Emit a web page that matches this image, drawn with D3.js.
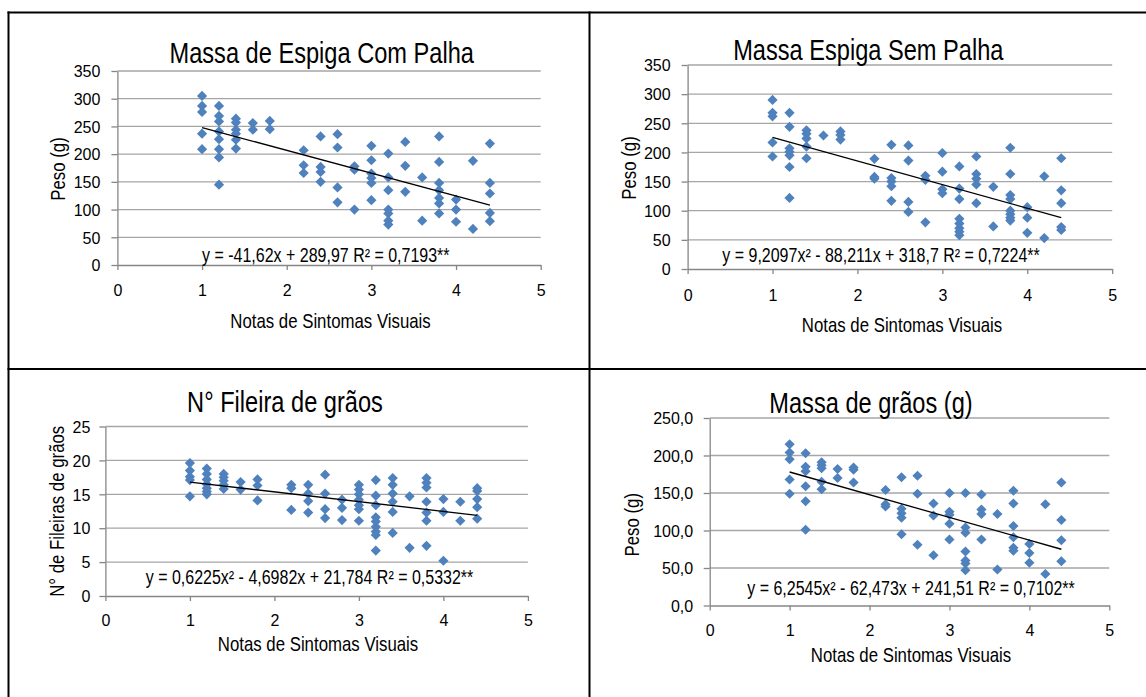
<!DOCTYPE html>
<html>
<head>
<meta charset="utf-8">
<script src="https://cdn.jsdelivr.net/npm/d3@7"></script>
<style>
  body { margin: 0; background: #fff; }
  svg { display: block; }
  .narrow { font-family: "Liberation Sans", Arial, sans-serif; fill: #000; }
  .tick text { font-family: "Liberation Sans", Arial, sans-serif; font-size: 16px; fill: #000; }
</style>
</head>
<body>
<div id="quadro"></div>
<script>
// Notas de sintomas (eixo x), iguais nos quatro graficos
const notas = [1, 1.2, 1.4, 1.6, 1.8, 2.2, 2.4, 2.6, 2.8, 3, 3.2, 3.4, 3.6, 3.8, 4, 4.2, 4.4]
const xTicks = [0, 1, 2, 3, 4, 5]

// Valores lidos em cada nota
const comPalha = [
  [305, 287, 276, 237, 209],
  [287, 269, 259, 241, 227, 209, 194, 145],
  [264, 257, 244, 237, 226, 210],
  [256, 244],
  [260, 245],
  [207, 180, 166],
  [232, 177, 168, 150],
  [236, 212, 140, 113],
  [178, 172, 100],
  [215, 189, 165, 157, 148, 117],
  [201, 158, 135, 100, 93, 80, 73],
  [222, 179, 132],
  [158, 80],
  [232, 186, 148, 135, 121, 111, 93],
  [118, 100, 78],
  [188, 65],
  [219, 148, 129, 94, 79]
]

const semPalha = [
  [290, 268, 262, 217, 193],
  [268, 244, 207, 201, 195, 175, 122],
  [238, 232, 224, 210, 190],
  [229],
  [236, 230, 222],
  [189, 158, 155],
  [213, 156, 150, 142, 117],
  [212, 186, 115, 98],
  [160, 153, 80],
  [199, 167, 137, 130],
  [176, 138, 120, 86, 78, 70, 64, 58],
  [193, 163, 155, 145, 113],
  [141, 73],
  [208, 163, 127, 120, 100, 94, 88, 83],
  [106, 88, 62],
  [159, 53],
  [190, 135, 113, 72, 67]
]

const fileiras = [
  [19.6, 18.5, 17.6, 17.1, 14.7],
  [18.8, 18.0, 17.2, 16.5, 15.9, 15.4, 15.0],
  [18.0, 17.5, 17.0, 16.4, 15.8],
  [16.8, 15.7],
  [17.2, 16.3, 14.1],
  [16.4, 15.9, 12.7],
  [16.4, 15.1, 14.0, 12.3],
  [17.9, 15.1, 12.8, 11.5],
  [14.2, 13.0, 11.2],
  [16.4, 15.7, 15.0, 14.2, 13.4, 12.8, 11.1],
  [17.1, 14.8, 13.4, 11.6, 11.0, 10.2, 9.5, 9.0, 6.7],
  [17.4, 16.4, 15.1, 13.9, 12.4, 9.3],
  [14.7, 7.1],
  [17.4, 16.7, 16.0, 13.9, 12.3, 11.1, 7.4],
  [14.3, 12.4, 5.2],
  [13.9, 11.1],
  [15.9, 15.5, 14.3, 13.1, 11.4]
]

const graos = [
  [215, 204, 195, 168, 149],
  [203, 185, 179, 159, 139, 101],
  [191, 187, 183, 165, 155],
  [182, 170],
  [184, 181, 164],
  [154, 135, 132],
  [171, 129, 123, 117, 95],
  [173, 149, 81],
  [136, 120, 67],
  [150, 125, 121, 109, 88],
  [150, 104, 97, 72, 60, 56, 47],
  [148, 128, 122, 88],
  [122, 48],
  [153, 136, 106, 91, 77, 73],
  [82, 70, 57],
  [135, 42],
  [164, 114, 87, 59]
]

// Linhas de tendencia (valores em x = 1 e x = 4,4)
const tendX = [1, 4.4]
const tendComPalha = [248, 108]
const tendSemPalha = [226, 88]
const tendFileiras = [16.8, 11.9]
const tendGraos = [178, 75]

const titulos = ["Massa de Espiga Com Palha", "Massa Espiga Sem Palha", "N° Fileira de grãos", "Massa de grãos (g)"]
const equacoes = [
  "y = -41,62x + 289,97 R² = 0,7193**",
  "y = 9,2097x² - 88,211x + 318,7 R² = 0,7224**",
  "y = 0,6225x² - 4,6982x + 21,784 R² = 0,5332**",
  "y = 6,2545x² - 62,473x + 241,51 R² = 0,7102**"
]
const rotulosY = ["Peso (g)", "Peso (g)", "N° de Fileiras de grãos", "Peso (g)"]
const rotuloX = "Notas de Sintomas Visuais"

const W = 1146, H = 697
const svg = d3.select("#quadro").append("svg").attr("width", W).attr("height", H)

// Quadro (bordas da tabela)
const borda = svg.append("g").attr("stroke", "#000").attr("stroke-width", 2)
borda.append("line").attr("x1", 7.5).attr("x2", W).attr("y1", 12.5).attr("y2", 12.5)
borda.append("line").attr("x1", 7.5).attr("x2", W).attr("y1", 369).attr("y2", 369)
borda.append("line").attr("x1", 8.5).attr("x2", 8.5).attr("y1", 11.5).attr("y2", H)
borda.append("line").attr("x1", 589.5).attr("x2", 589.5).attr("y1", 11.5).attr("y2", H)

// texto estreito: fonte comum comprimida na horizontal
const estreito = (g, x, y, size, txt, rot = 0) =>
  g.append("text").classed("narrow", true)
    .attr("transform", `translate(${x},${y}) rotate(${rot}) scale(0.82,1)`)
    .attr("dy", rot ? "0.36em" : null)
    .attr("text-anchor", "middle").attr("font-size", size)
    .text(txt)

const draw = (cfg) => {
  const x = d3.scaleLinear().domain([0, 5]).range([cfg.x0, cfg.x1])
  const y = d3.scaleLinear().domain([0, cfg.yMax]).range([cfg.y0, cfg.y1])
  const g = svg.append("g")
  const yTicks = d3.range(0, cfg.yMax + cfg.yStep / 2, cfg.yStep)

  // grade
  g.append("g")
    .selectAll("line")
    .data(yTicks.slice(1))
    .join("line")
    .attr("x1", cfg.x0)
    .attr("x2", cfg.x1)
    .attr("y1", (d) => y(d))
    .attr("y2", (d) => y(d))
    .attr("stroke", "#a6a6a6")
    .attr("stroke-width", 1.3)

  const eixoY = g
    .append("g")
    .attr("transform", `translate(${cfg.x0},0)`)
    .call(d3.axisLeft(y).tickValues(yTicks).tickFormat(cfg.fmt).tickSize(6).tickSizeOuter(0).tickPadding(cfg.padY))
  const eixoX = g
    .append("g")
    .attr("transform", `translate(0,${cfg.y0})`)
    .call(d3.axisBottom(x).tickValues(xTicks).tickFormat(d3.format("d")).tickSize(5).tickSizeOuter(0).tickPadding(cfg.padX))
  ;[eixoY, eixoX].forEach((e) => {
    e.selectAll("path, line").attr("stroke", "#868686").attr("stroke-width", 1.3)
    e.attr("font-size", null).attr("font-family", null)
  })
  eixoY.selectAll("text").attr("dy", "0.36em")

  // pontos
  const pontos = notas.flatMap((n, i) => cfg.valores[i].map((v) => ({ x: n, y: v })))
  const losango = d3.symbol(d3.symbolSquare, 52)
  g.append("g")
    .selectAll("path")
    .data(pontos)
    .join("path")
    .attr("d", losango)
    .attr("transform", (d) => `translate(${x(d.x)},${y(d.y)}) rotate(45)`)
    .attr("fill", "#4f81bd")

  // tendencia
  g.append("path")
    .datum(tendX.map((t, i) => [t, cfg.tend[i]]))
    .attr("d", d3.line().x((d) => x(d[0])).y((d) => y(d[1])))
    .attr("stroke", "#000")
    .attr("stroke-width", 1.3)
    .attr("fill", "none")

  // textos
  estreito(g, cfg.tx, cfg.ty, 28.8, cfg.titulo)
  estreito(g, cfg.ex, cfg.ey, 19.5, cfg.equacao)
  estreito(g, cfg.lx, cfg.ly, 20.5, rotuloX)
  estreito(g, cfg.rx, cfg.ry, 20.5, cfg.rotuloY, -90)
}

draw({ valores: comPalha, tend: tendComPalha, titulo: titulos[0], equacao: equacoes[0], rotuloY: rotulosY[0],
  yMax: 350, yStep: 50, fmt: d3.format("d"), x0: 117.4, x1: 540.7, y0: 265, y1: 71, padY: 11, padX: 15,
  tx: 321.7, ty: 63.3, ex: 325.8, ey: 261.7, lx: 330.5, ly: 328, rx: 58, ry: 169 })

draw({ valores: semPalha, tend: tendSemPalha, titulo: titulos[1], equacao: equacoes[1], rotuloY: rotulosY[1],
  yMax: 350, yStep: 50, fmt: d3.format("d"), x0: 687.6, x1: 1112.2, y0: 269, y1: 65, padY: 11, padX: 16,
  tx: 868.3, ty: 60, ex: 881, ey: 261.7, lx: 902, ly: 331.7, rx: 629, ry: 168 })

draw({ valores: fileiras, tend: tendFileiras, titulo: titulos[2], equacao: equacoes[2], rotuloY: rotulosY[2],
  yMax: 25, yStep: 5, fmt: d3.format("d"), x0: 105.4, x1: 527.9, y0: 596, y1: 426.5, padY: 9, padX: 14,
  tx: 285, ty: 412, ex: 309.5, ey: 584, lx: 318, ly: 651.3, rx: 56.5, ry: 511.3 })

draw({ valores: graos, tend: tendGraos, titulo: titulos[3], equacao: equacoes[3], rotuloY: rotulosY[3],
  yMax: 250, yStep: 50, fmt: (d) => d3.format(".1f")(d).replace(".", ","), x0: 709.7, x1: 1109.3, y0: 605.5, y1: 418, padY: 10.5, padX: 14,
  tx: 871, ty: 413, ex: 911, ey: 594.7, lx: 911, ly: 662, rx: 631.6, ry: 524.7 })
</script>
</body>
</html>
